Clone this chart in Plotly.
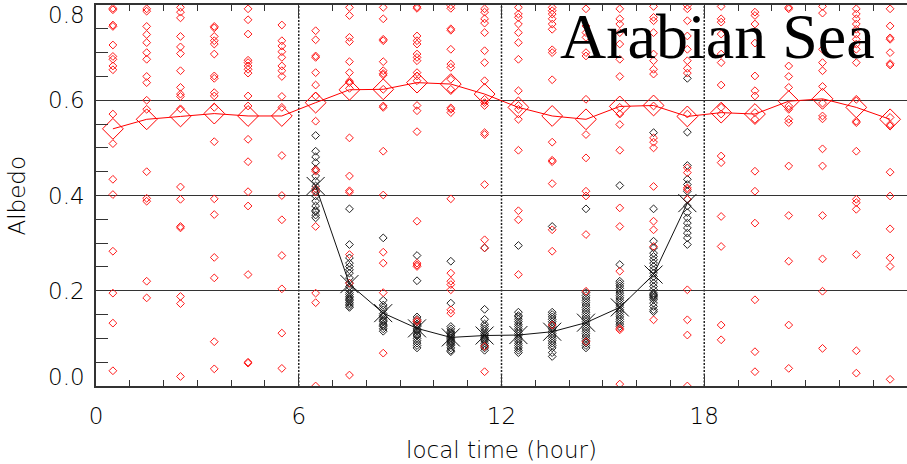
import plotly.graph_objects as go

# ---------------- data ----------------
hours = [0.5, 1.5, 2.5, 3.5, 4.5, 5.5, 6.5, 7.5, 8.5, 9.5, 10.5, 11.5,
         12.5, 13.5, 14.5, 15.5, 16.5, 17.5, 18.5, 19.5, 20.5, 21.5, 22.5, 23.5]

red_by_hour = [
    [0.790, 0.793, 0.755, 0.758, 0.716, 0.692, 0.686, 0.672, 0.664, 0.571, 0.509, 0.434, 0.402, 0.283, 0.195, 0.132, 0.032],
    [0.792, 0.787, 0.755, 0.738, 0.721, 0.700, 0.686, 0.650, 0.637, 0.600, 0.581, 0.450, 0.394, 0.388, 0.220, 0.185],
    [0.795, 0.785, 0.773, 0.734, 0.712, 0.698, 0.662, 0.627, 0.613, 0.608, 0.582, 0.418, 0.392, 0.335, 0.332, 0.188, 0.173, 0.020],
    [0.755, 0.752, 0.734, 0.725, 0.718, 0.697, 0.651, 0.646, 0.616, 0.609, 0.585, 0.513, 0.393, 0.360, 0.270, 0.227, 0.093, 0.036],
    [0.792, 0.769, 0.739, 0.684, 0.679, 0.672, 0.665, 0.657, 0.609, 0.588, 0.518, 0.471, 0.408, 0.378, 0.234, 0.048, 0.050],
    [0.758, 0.725, 0.714, 0.702, 0.690, 0.672, 0.662, 0.650, 0.608, 0.585, 0.484, 0.400, 0.349, 0.274, 0.204, 0.111, 0.037],
    [0.746, 0.727, 0.693, 0.690, 0.658, 0.632, 0.609, 0.556, 0.451, 0.454, 0.414, 0.407, 0.335, 0.195, 0.175, 0.000],
    [0.795, 0.778, 0.732, 0.723, 0.681, 0.658, 0.637, 0.640, 0.625, 0.521, 0.441, 0.407, 0.410, 0.276, 0.216, 0.023],
    [0.795, 0.771, 0.725, 0.728, 0.681, 0.662, 0.653, 0.656, 0.623, 0.588, 0.585, 0.493, 0.401, 0.281, 0.258, 0.196, 0.069],
    [0.793, 0.796, 0.735, 0.725, 0.718, 0.697, 0.690, 0.683, 0.658, 0.651, 0.641, 0.589, 0.578, 0.534, 0.346, 0.258, 0.251, 0.254, 0.135, 0.138],
    [0.799, 0.793, 0.747, 0.750, 0.707, 0.676, 0.669, 0.644, 0.623, 0.581, 0.584, 0.574, 0.393, 0.237, 0.220, 0.213, 0.202, 0.160, 0.153],
    [0.792, 0.785, 0.771, 0.762, 0.742, 0.704, 0.679, 0.641, 0.602, 0.595, 0.589, 0.532, 0.528, 0.423, 0.307, 0.290, 0.083, 0.030],
    [0.795, 0.781, 0.774, 0.760, 0.742, 0.721, 0.686, 0.620, 0.589, 0.581, 0.560, 0.495, 0.368, 0.349, 0.234],
    [0.795, 0.788, 0.781, 0.771, 0.760, 0.749, 0.706, 0.700, 0.643, 0.512, 0.471, 0.474, 0.425, 0.328, 0.283, 0.128],
    [0.792, 0.756, 0.742, 0.732, 0.700, 0.693, 0.602, 0.528, 0.479, 0.409, 0.399, 0.318, 0.199, 0.093],
    [0.792, 0.771, 0.760, 0.742, 0.718, 0.686, 0.650, 0.585, 0.571, 0.549, 0.495, 0.374, 0.335, 0.241, 0.118, 0.121, 0.004],
    [0.797, 0.774, 0.767, 0.742, 0.697, 0.683, 0.665, 0.655, 0.588, 0.521, 0.512, 0.500, 0.419, 0.346, 0.328, 0.293, 0.139],
    [0.799, 0.792, 0.767, 0.735, 0.707, 0.683, 0.667, 0.657, 0.571, 0.458, 0.448, 0.413, 0.416, 0.392, 0.202, 0.139, 0.107, 0.000],
    [0.797, 0.771, 0.764, 0.739, 0.697, 0.679, 0.632, 0.585, 0.571, 0.483, 0.469, 0.356, 0.293, 0.128, 0.097],
    [0.785, 0.778, 0.760, 0.720, 0.651, 0.620, 0.609, 0.574, 0.560, 0.451, 0.409, 0.342, 0.181, 0.072, 0.030],
    [0.792, 0.795, 0.672, 0.650, 0.627, 0.588, 0.581, 0.560, 0.553, 0.462, 0.358, 0.262, 0.128, 0.037],
    [0.797, 0.783, 0.707, 0.679, 0.662, 0.629, 0.594, 0.567, 0.561, 0.498, 0.462, 0.358, 0.267, 0.199, 0.079],
    [0.792, 0.781, 0.771, 0.760, 0.749, 0.739, 0.728, 0.718, 0.707, 0.679, 0.602, 0.553, 0.556, 0.493, 0.392, 0.385, 0.371, 0.276, 0.074, 0.027],
    [0.792, 0.756, 0.728, 0.731, 0.700, 0.674, 0.677, 0.564, 0.546, 0.549, 0.449, 0.399, 0.330, 0.269, 0.251, 0.014],
]

day_hours = [6.5, 7.5, 8.5, 9.5, 10.5, 11.5, 12.5, 13.5, 14.5, 15.5, 16.5, 17.5]

black_by_hour = [
    [0.526, 0.493, 0.481, 0.469, 0.455, 0.441, 0.430, 0.420, 0.409, 0.399, 0.388, 0.378, 0.369, 0.366, 0.359, 0.353],
    [0.372, 0.297, 0.269, 0.258, 0.251, 0.244, 0.237, 0.227, 0.216, 0.209, 0.202, 0.196, 0.192, 0.188, 0.185, 0.182, 0.179, 0.175, 0.172, 0.168, 0.165],
    [0.311, 0.180, 0.170, 0.165, 0.160, 0.152, 0.148, 0.145, 0.140, 0.137, 0.135, 0.130, 0.127, 0.125, 0.120, 0.115],
    [0.274, 0.221, 0.145, 0.140, 0.135, 0.130, 0.127, 0.125, 0.120, 0.117, 0.115, 0.110, 0.107, 0.105, 0.100, 0.095, 0.090, 0.085, 0.080],
    [0.262, 0.174, 0.125, 0.120, 0.115, 0.112, 0.110, 0.107, 0.105, 0.102, 0.100, 0.097, 0.095, 0.092, 0.090, 0.087, 0.085, 0.080, 0.075, 0.072],
    [0.290, 0.161, 0.140, 0.130, 0.125, 0.120, 0.115, 0.110, 0.107, 0.105, 0.102, 0.100, 0.097, 0.095, 0.090, 0.085, 0.080, 0.075],
    [0.295, 0.155, 0.148, 0.145, 0.140, 0.135, 0.130, 0.125, 0.120, 0.115, 0.110, 0.105, 0.100, 0.095, 0.090, 0.085, 0.080, 0.075, 0.070],
    [0.335, 0.155, 0.150, 0.145, 0.140, 0.135, 0.130, 0.125, 0.120, 0.115, 0.110, 0.105, 0.100, 0.095, 0.090, 0.085, 0.080, 0.070, 0.062],
    [0.372, 0.196, 0.190, 0.185, 0.180, 0.175, 0.170, 0.165, 0.160, 0.155, 0.150, 0.145, 0.140, 0.135, 0.130, 0.125, 0.120, 0.115, 0.110, 0.105, 0.100, 0.095, 0.090, 0.085, 0.080],
    [0.421, 0.255, 0.220, 0.215, 0.210, 0.205, 0.200, 0.195, 0.190, 0.185, 0.180, 0.175, 0.170, 0.165, 0.160, 0.155, 0.150, 0.145, 0.140, 0.135, 0.130, 0.125],
    [0.532, 0.372, 0.304, 0.290, 0.279, 0.272, 0.265, 0.258, 0.251, 0.244, 0.237, 0.230, 0.223, 0.216, 0.209, 0.202, 0.195, 0.192, 0.190, 0.187, 0.185, 0.181, 0.174, 0.167, 0.160, 0.156],
    [0.646, 0.533, 0.463, 0.434, 0.423, 0.409, 0.392, 0.378, 0.364, 0.353, 0.342, 0.332, 0.321, 0.311, 0.297],
]

red_mean = [0.540, 0.560, 0.566, 0.572, 0.567, 0.567, 0.595, 0.622, 0.623, 0.637, 0.634, 0.613,
            0.585, 0.567, 0.560, 0.587, 0.589, 0.566, 0.574, 0.571, 0.598, 0.603, 0.585, 0.560]
black_mean = [0.420, 0.214, 0.153, 0.121, 0.102, 0.106, 0.107, 0.114, 0.133, 0.165, 0.234, 0.384]

x_tickvals = [0, 6, 12, 18, 24]
y_tickvals = [0.0, 0.2, 0.4, 0.6, 0.8]
y_ticktext = ["0.0", "0.2", "0.4", "0.6", "0.8"]
day_bounds = [6, 12, 18]

# ---------------- figure ----------------
def flatten(xs, groups):
    fx, fy = [], []
    for x, g in zip(xs, groups):
        fx.extend([x] * len(g))
        fy.extend(g)
    return fx, fy

bx, by = flatten(day_hours, black_by_hour)
rx, ry = flatten(hours, red_by_hour)

fig = go.Figure()
fig.add_trace(go.Scatter(x=bx, y=by, mode="markers",
                         marker=dict(symbol="diamond-open", size=6, color="#222",
                                     line=dict(width=1, color="#222")),
                         showlegend=False, cliponaxis=True))
fig.add_trace(go.Scatter(x=rx, y=ry, mode="markers",
                         marker=dict(symbol="diamond-open", size=6, color="#ff1a1a",
                                     line=dict(width=1, color="#ff1a1a")),
                         showlegend=False, cliponaxis=True))
fig.add_trace(go.Scatter(x=hours, y=red_mean, mode="lines+markers",
                         line=dict(color="#ff0000", width=1),
                         marker=dict(symbol="diamond-open", size=16, color="#ff0000",
                                     line=dict(width=1, color="#ff0000")),
                         showlegend=False))
fig.add_trace(go.Scatter(x=day_hours, y=black_mean, mode="lines+markers",
                         line=dict(color="#111", width=1),
                         marker=dict(symbol="x-thin", size=18, color="#111",
                                     line=dict(width=1, color="#111")),
                         showlegend=False))

for d in day_bounds:
    fig.add_shape(type="line", xref="x", yref="paper", x0=d, x1=d, y0=0, y1=1,
                  line=dict(color="#222", width=1.5, dash="2px,1.5px"), layer="below")

label_font = dict(family="DejaVu Sans", size=23, color="#000", weight=300)

for v, t in zip(y_tickvals, y_ticktext):
    shift = 0
    if v == 0.0:
        shift = 9
    elif v == 0.8:
        shift = -10
    fig.add_annotation(x=0, xref="paper", y=v, yref="y", text=t, showarrow=False,
                       xanchor="right", yanchor="middle", xshift=-9, yshift=shift,
                       font=label_font)

fig.add_annotation(x=0, xref="paper", y=0.5, yref="paper", text="Albedo",
                   showarrow=False, textangle=-90, xanchor="center", yanchor="middle",
                   xshift=-80, font=label_font)

fig.add_annotation(x=1, xref="paper", y=1, yref="paper", text="Arabian Sea",
                   showarrow=False, xanchor="right", yanchor="top", yshift=6, xshift=-30,
                   font=dict(family="Liberation Serif", size=64, color="black"))

fig.update_layout(
    width=891, height=448, autosize=False,
    margin=dict(l=88, r=0, t=0, b=70),
    plot_bgcolor="white", paper_bgcolor="white",
    showlegend=False,
    xaxis=dict(range=[0, 23.7], tickvals=x_tickvals, ticktext=[str(v) for v in x_tickvals],
               ticks="inside", ticklen=12, tickcolor="#333", tickwidth=1.2,
               minor=dict(dtick=1, tick0=0, ticks="inside", ticklen=6, tickcolor="#333", showgrid=False),
               showline=True, linecolor="#333", linewidth=1.5, mirror="allticks",
               showgrid=False, zeroline=False, ticklabelstandoff=9,
               tickfont=label_font,
               title=dict(text="local time (hour)", font=label_font, standoff=14)),
    yaxis=dict(range=[0, 0.8], tickvals=y_tickvals, showticklabels=False,
               ticks="inside", ticklen=12, tickcolor="#333", tickwidth=1.2,
               minor=dict(dtick=0.05, tick0=0, ticks="inside", ticklen=12, tickcolor="#333", showgrid=False),
               showline=True, linecolor="#333", linewidth=1.5, mirror=False,
               showgrid=True, gridcolor="#333", gridwidth=1.2, zeroline=False),
)

post = """
var gd = document.getElementById('{plot_id}');
document.body.style.margin = '0';
document.body.style.overflow = 'hidden';
gd.style.width = '907px';
gd.style.height = '464px';
Plotly.relayout(gd, {
  width: 907, height: 464,
  'margin.l': 96, 'margin.r': 0, 'margin.t': 5, 'margin.b': 78,
  'xaxis.range': [0, 24]
});
"""

fig.write_html("out.html",
               config={"responsive": False, "displayModeBar": False},
               post_script=post)
